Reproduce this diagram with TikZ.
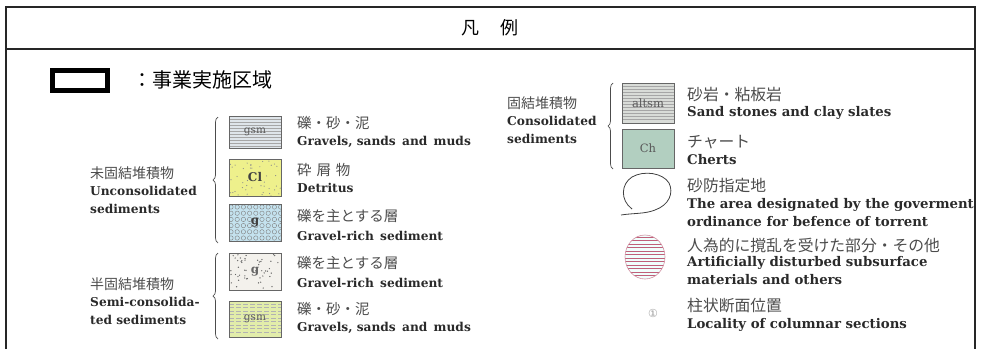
\documentclass[tikz,border=0pt]{standalone}
\usepackage{fontspec}
\setmainfont{DejaVu Serif}
\newfontfamily\jp{Noto Sans CJK JP}
\newfontfamily\symf{DejaVu Sans}
\usetikzlibrary{decorations.pathreplacing}
\definecolor{gsmA}{HTML}{DFE5EA}
\definecolor{clA}{HTML}{EEF08C}
\definecolor{gA}{HTML}{C4E2EE}
\definecolor{gB}{HTML}{F3F1EC}
\definecolor{gsmB}{HTML}{E2EDAA}
\definecolor{altA}{HTML}{D9DCD8}
\definecolor{chA}{HTML}{B2CFC0}
\definecolor{stripe}{HTML}{C0607A}
\definecolor{ink}{HTML}{2A2A2A}
\begin{document}
\begin{tikzpicture}[x=1pt,y=-1pt,
  frameline/.style={line width=1.4pt,draw=black!85},
  swatch/.style={draw=black!60,line width=0.7pt,minimum width=52pt,inner sep=0pt,
    font=\fontsize{10.5}{10.5}\selectfont,text=black!65},
  en/.style={anchor=west,inner sep=0pt,font=\bfseries\fontsize{12.2}{13}\selectfont,text=ink},
  enr/.style={anchor=west,inner sep=0pt,font=\bfseries\fontsize{13.3}{14}\selectfont,text=ink},
  ja/.style={anchor=west,inner sep=0pt,font=\jp\fontsize{14}{14}\selectfont,text=black!70},
  jar/.style={anchor=west,inner sep=0pt,font=\jp\fontsize{15.8}{16}\selectfont,text=black!70},
  brc/.style={decorate,decoration={brace,amplitude=5pt},draw=black!70,line width=0.7pt},
  patline/.style={draw=black!35,line width=0.4pt}]
\useasboundingbox (0,0) rectangle (981,349);
% frame
\draw[frameline] (6,349) -- (6,7) -- (975,7) -- (975,349);
\draw[frameline] (6,49) -- (975,49);
\node[font=\jp\fontsize{18}{18}\selectfont] (title) at (490,28) {凡\hspace{1.2em}例};
% project area
\node[draw=black,line width=5pt,minimum width=55pt,minimum height=20pt,inner sep=0pt] (area) at (80,80.5) {};
\node[anchor=west,inner sep=0pt,font=\jp\fontsize{20}{20}\selectfont] (arealbl) at (132,80) {：事業実施区域};
% --- patterns ---
\begin{scope}
 \clip (229,116) rectangle (281,148);
 \fill[gsmA] (229,116) rectangle (281,148);
 \foreach \y in {119,122,...,146} \draw[patline] (229,\y) -- (281,\y);
\end{scope}
\begin{scope}
 \clip (229,159) rectangle (281,196);
 \fill[clA] (229,159) rectangle (281,196);
 \pgfmathsetseed{7}
 \foreach \k in {1,...,45}{\pgfmathsetmacro\dx{229+rnd*52}\pgfmathsetmacro\dy{159+rnd*37}
   \fill[black!45] (\dx,\dy) circle (0.6pt);}
\end{scope}
\begin{scope}
 \clip (229,204) rectangle (281,241);
 \fill[gA] (229,204) rectangle (281,241);
 \foreach \r in {0,...,5}{\foreach \c in {0,...,8}{
   \draw[black!50,line width=0.4pt] ({231+\c*6.2},{207+\r*6.2}) circle (2.2pt);}}
\end{scope}
\begin{scope}
 \clip (229,253) rectangle (281,290);
 \fill[gB] (229,253) rectangle (281,290);
 \pgfmathsetseed{11}
 \foreach \k in {1,...,50}{\pgfmathsetmacro\dx{229+rnd*52}\pgfmathsetmacro\dy{253+rnd*37}
   \fill[black!60] (\dx,\dy) circle (0.7pt);}
\end{scope}
\begin{scope}
 \clip (229,301) rectangle (281,337);
 \fill[gsmB] (229,301) rectangle (281,337);
 \foreach \y in {304,307.5,...,335} \draw[patline,draw=black!30,dash pattern=on 5pt off 2pt] (229,\y) -- (281,\y);
\end{scope}
\begin{scope}
 \clip (622,83) rectangle (674,123);
 \fill[altA] (622,83) rectangle (674,123);
 \foreach \y in {86,89,...,121} \draw[patline] (622,\y) -- (674,\y);
\end{scope}
\fill[chA] (622,129) rectangle (674,168);
% --- swatch nodes ---
\node[swatch,minimum height=32pt] (gsm1) at (255,132) {gsm};
\node[swatch,minimum height=37pt,font=\bfseries\fontsize{12}{12}\selectfont,text=black!75] (cl) at (255,177.5) {Cl};
\node[swatch,minimum height=37pt,font=\bfseries\fontsize{12}{12}\selectfont,text=black!75] (g1) at (255,222.5) {g};
\node[swatch,minimum height=37pt,font=\bfseries\fontsize{12}{12}\selectfont,text=black!60] (g2) at (255,271.5) {g};
\node[swatch,minimum height=36pt] (gsm2) at (255,319) {gsm};
\node[swatch,minimum height=40pt,font=\fontsize{11.5}{11.5}\selectfont] (alt) at (648,103) {altsm};
\node[swatch,minimum height=39pt,font=\fontsize{11.5}{11.5}\selectfont] (ch) at (648,148.5) {Ch};
% braces
\draw[brc] (218,243) -- (218,117);
\draw[brc] (218,339) -- (218,253);
\draw[brc] (613,169) -- (613,83);
% group labels
\node[ja] (uc1) at (90,173) {未固結堆積物};
\node[en] (uc2) at (90,191) {Unconsolidated};
\node[en] (uc3) at (90,209) {sediments};
\node[ja] (sc1) at (90,284) {半固結堆積物};
\node[en] (sc2) at (90,302) {Semi-consolida-};
\node[en] (sc3) at (90,320) {ted sediments};
\node[ja] (cs1) at (507,103) {固結堆積物};
\node[en] (cs2) at (507,121) {Consolidated};
\node[en] (cs3) at (507,139) {sediments};
% item labels left
\node[ja,font=\jp\fontsize{14.5}{15}\selectfont] (t1a) at (297,123) {礫・砂・泥};
\node[en] (t1b) at (297,142) {Gravels, sands\, and\, muds};
\node[ja,font=\jp\fontsize{14.5}{15}\selectfont] (t2a) at (297,170) {砕\,\,屑\,\,物};
\node[en] (t2b) at (297,188) {Detritus};
\node[ja,font=\jp\fontsize{14.5}{15}\selectfont] (t3a) at (297,216) {礫を主とする層};
\node[en] (t3b) at (297,236) {Gravel-rich\, sediment};
\node[ja,font=\jp\fontsize{14.5}{15}\selectfont] (t4a) at (297,263) {礫を主とする層};
\node[en] (t4b) at (297,283) {Gravel-rich\, sediment};
\node[ja,font=\jp\fontsize{14.5}{15}\selectfont] (t5a) at (297,309) {礫・砂・泥};
\node[en] (t5b) at (297,328) {Gravels, sands\, and\, muds};
% item labels right
\node[jar] (r1a) at (687,94) {砂岩・粘板岩};
\node[enr] (r1b) at (687,113) {Sand stones and clay slates};
\node[jar] (r2a) at (687,142) {チャート};
\node[enr] (r2b) at (687,160) {Cherts};
\node[jar] (r3a) at (687,186) {砂防指定地};
\node[enr] (r3b) at (687,205) {The area designated by the goverment};
\node[enr] (r3c) at (687,222) {ordinance for befence of torrent};
\node[jar] (r4a) at (687,245) {人為的に撹乱を受けた部分・その他};
\node[enr] (r4b) at (687,263) {Artificially disturbed subsurface};
\node[enr] (r4c) at (687,280) {materials and others};
\node[jar] (r5a) at (687,306) {柱状断面位置};
\node[enr] (r5b) at (687,325) {Locality of columnar sections};
% sabo area outline
\draw[black!75,line width=0.8pt] (621,215) .. controls (634,213) and (645,214) .. (655,210)
  .. controls (669,205) and (674,193) .. (669,183) .. controls (663,173) and (644,170) .. (632,177)
  .. controls (621,184) and (620,200) .. (632,209);
% disturbed (striped ellipse)
\begin{scope}
 \clip (645,257) ellipse (20pt and 22pt);
 \fill[green!10!cyan!6] (645,257) ellipse (20pt and 22pt);
 \foreach \y in {237,240.5,...,279} \draw[stripe,line width=1pt] (624,\y) -- (666,\y);
\end{scope}
\draw[stripe!70,line width=0.6pt] (645,257) ellipse (20pt and 22pt);
\node[font=\symf\fontsize{11}{11}\selectfont,text=black!40,inner sep=0pt] (loc) at (653,313) {①};
\end{tikzpicture}
\end{document}
